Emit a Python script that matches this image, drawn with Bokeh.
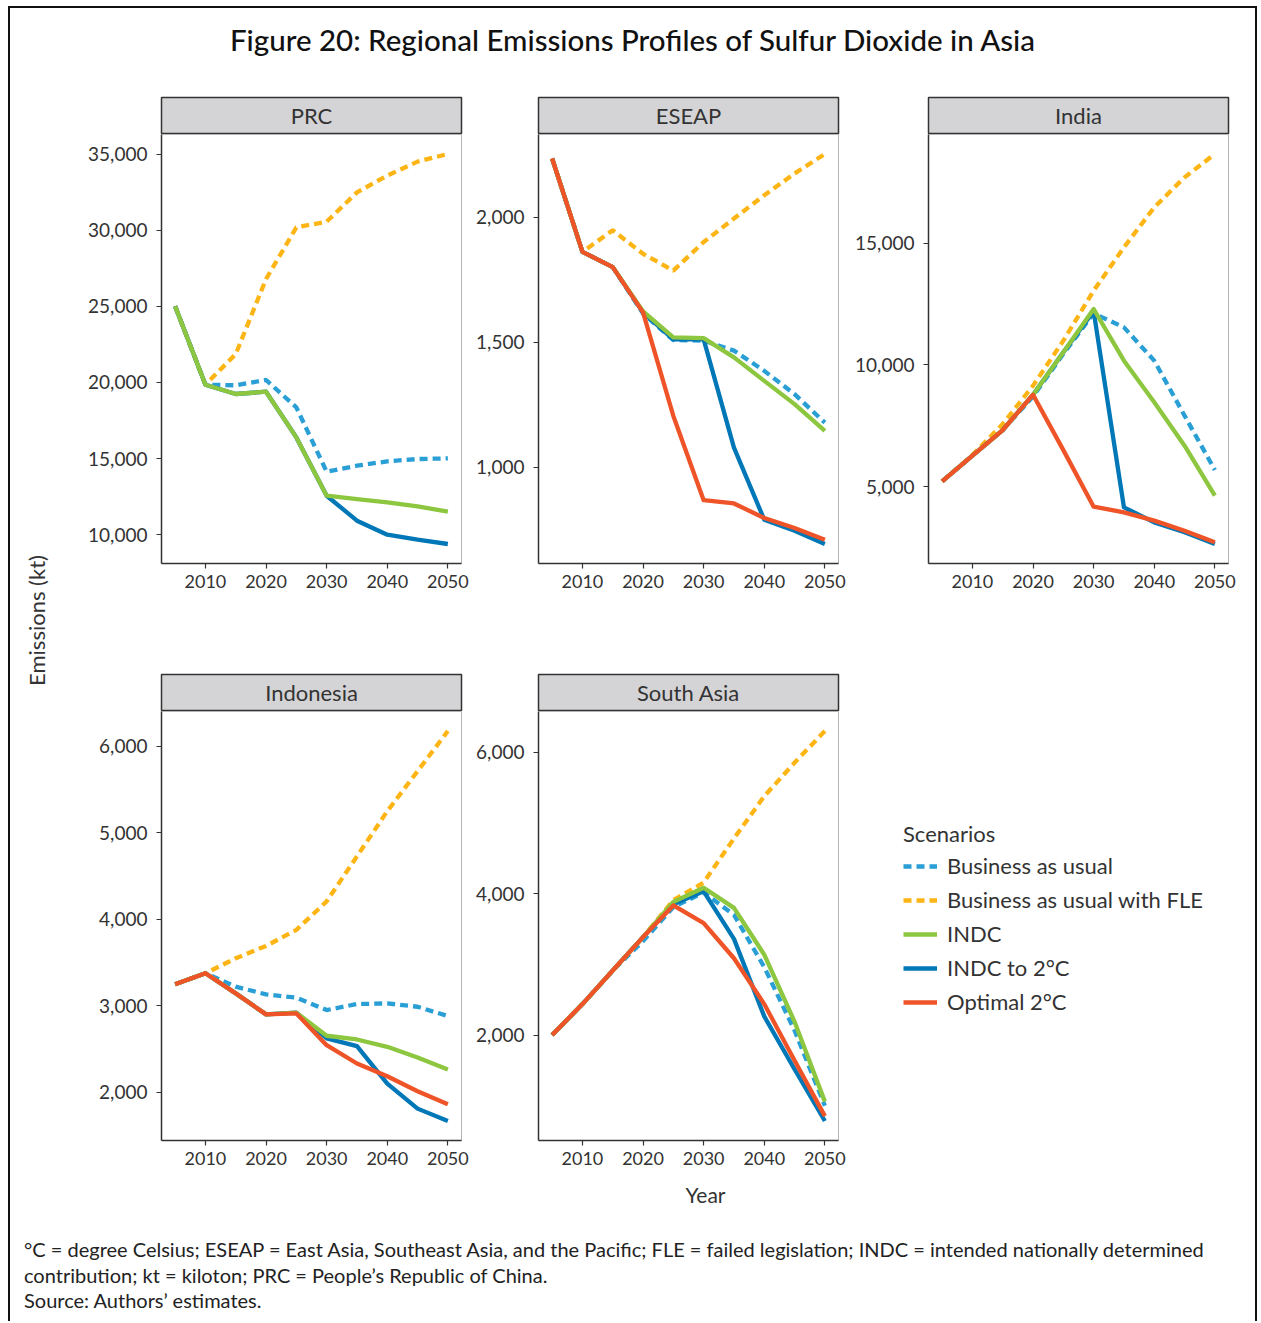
import numpy as np
from bokeh.plotting import figure
from bokeh.layouts import column, row
from bokeh.models import (Div, Label, Legend, LegendItem, FixedTicker,
                          NumeralTickFormatter, Range1d)
from bokeh.embed import file_html
from bokeh.resources import INLINE
from bokeh.core.properties import value

# ---------------- data ----------------
years = [2005, 2010, 2015, 2020, 2025, 2030, 2035, 2040, 2045, 2050]
x_ticks = [2010, 2020, 2030, 2040, 2050]

scenario_labels = ["Business as usual", "Business as usual with FLE", "INDC",
                   "INDC to 2°C", "Optimal 2°C"]

prc_bau = [25000, 19850, 19810, 20160, 18360, 14140, 14530, 14820, 14970, 15010]
prc_fle = [25000, 19850, 21860, 26790, 30180, 30560, 32480, 33580, 34500, 35000]
prc_indc = [25000, 19850, 19240, 19390, 16390, 12560, 12340, 12120, 11860, 11510]
prc_indc2 = [25000, 19850, 19240, 19390, 16390, 12560, 10920, 10000, 9670, 9390]
prc_opt = None
prc_ticks = [10000, 15000, 20000, 25000, 30000, 35000]

eseap_bau = [2235, 1862, 1801, 1615, 1509, 1507, 1467, 1386, 1293, 1179]
eseap_fle = [2235, 1862, 1948, 1854, 1787, 1901, 1995, 2088, 2175, 2253]
eseap_indc = [2235, 1862, 1801, 1624, 1520, 1517, 1440, 1346, 1253, 1146]
eseap_indc2 = [2235, 1862, 1801, 1620, 1512, 1512, 1079, 791, 747, 694]
eseap_opt = [2235, 1862, 1801, 1620, 1206, 869, 856, 798, 758, 711]
eseap_ticks = [1000, 1500, 2000]

india_bau = [5219, 6272, 7325, 8700, 10450, 12113, 11539, 10171, 7914, 5684]
india_fle = [5219, 6300, 7572, 9145, 10992, 13044, 14822, 16464, 17695, 18653]
india_indc = [5219, 6272, 7325, 8776, 10513, 12291, 10171, 8461, 6683, 4630]
india_indc2 = [5219, 6272, 7325, 8776, 10513, 12200, 4152, 3536, 3126, 2647]
india_opt = [5219, 6272, 7325, 8776, 6500, 4179, 3947, 3605, 3194, 2715]
india_ticks = [5000, 10000, 15000]

indo_bau = [3247, 3375, 3220, 3131, 3093, 2950, 3019, 3027, 2988, 2880]
indo_fle = [3247, 3375, 3548, 3691, 3876, 4205, 4726, 5247, 5710, 6174]
indo_indc = [3247, 3375, 3143, 2900, 2920, 2653, 2610, 2525, 2402, 2263]
indo_indc2 = [3247, 3375, 3143, 2900, 2920, 2622, 2533, 2100, 1811, 1668]
indo_opt = [3247, 3375, 3143, 2900, 2911, 2544, 2332, 2185, 2012, 1861]
indo_ticks = [2000, 3000, 4000, 5000, 6000]

sa_bau = [2000, 2438, 2912, 3330, 3808, 4017, 3699, 2961, 2065, 1000]
sa_fle = [2000, 2438, 2912, 3385, 3908, 4157, 4780, 5377, 5851, 6299]
sa_indc = [2000, 2438, 2912, 3385, 3883, 4082, 3798, 3136, 2189, 1059]
sa_indc2 = [2000, 2438, 2912, 3385, 3850, 4032, 3360, 2264, 1517, 785]
sa_opt = [2000, 2438, 2912, 3385, 3833, 3584, 3086, 2438, 1641, 854]
sa_ticks = [2000, 4000, 6000]

# ---------------- styles ----------------
FONT = "Lato"
TXT = "#333333"
styles = {
    "bau": dict(line_color="#2a9fd6", line_width=4.3, line_dash="8 5", line_cap="butt"),
    "fle": dict(line_color="#fdb515", line_width=4.3, line_dash="8 5", line_cap="butt"),
    "indc": dict(line_color="#8dc63f", line_width=4.3, line_join="round"),
    "indc2": dict(line_color="#0077b6", line_width=4.3, line_join="round"),
    "opt": dict(line_color="#ef5428", line_width=4.3, line_join="round"),
}
draw_order = ["bau", "fle", "indc2", "indc", "opt"]
legend_order = ["bau", "fle", "indc", "indc2", "opt"]

FW, FH = 300, 429
STRIP_H = 38


def blank(width, height):
    f = figure(width=width, height=height, output_backend="svg", toolbar_location=None,
               x_range=Range1d(0, 1), y_range=Range1d(0, 1),
               x_axis_location=None, y_axis_location=None, min_border=0)
    f.outline_line_color = None
    f.grid.visible = False
    return f


def make_strip(name, L, R):
    s = figure(width=L + FW + R, height=STRIP_H, output_backend="svg", toolbar_location=None,
               x_range=Range1d(0, 1), y_range=Range1d(0, 1),
               x_axis_location=None, y_axis_location=None,
               min_border_left=L, min_border_right=R, min_border_top=1, min_border_bottom=1)
    s.background_fill_color = "#d4d4d6"
    s.border_fill_color = "white"
    s.outline_line_color = "#333333"
    s.outline_line_width = 1.5
    s.grid.visible = False
    s.text(x=[0.5], y=[0.5], text=[name], text_align="center", text_baseline="middle",
           text_font=value(FONT), text_font_size="22px", text_color=TXT)
    return s


def make_panel(name, series, yticks, L, R, B):
    p = figure(width=L + FW + R, height=FH + B, output_backend="svg",
               toolbar_location=None,
               min_border_left=L, min_border_right=R, min_border_top=0,
               min_border_bottom=B)
    vals = [v for s in series.values() if s for v in s]
    lo, hi = min(vals), max(vals)
    pad = (hi - lo) * 0.05
    xpad = (max(years) - min(years)) * 0.05
    p.x_range = Range1d(min(years) - xpad, max(years) + xpad)
    p.y_range = Range1d(lo - pad, hi + pad)
    for key in draw_order:
        s = series.get(key)
        if s:
            p.line(years, s, **styles[key])
    p.xaxis.ticker = FixedTicker(ticks=x_ticks)
    p.yaxis.ticker = FixedTicker(ticks=yticks)
    p.yaxis.formatter = NumeralTickFormatter(format="0,0")
    for ax in p.axis:
        ax.major_tick_out = 5
        ax.major_tick_in = 0
        ax.minor_tick_out = 0
        ax.minor_tick_in = 0
        ax.axis_line_color = "#333333"
        ax.axis_line_width = 1.5
        ax.major_tick_line_color = "#333333"
        ax.major_tick_line_width = 1.2
        ax.major_label_text_font = FONT
        ax.major_label_text_color = TXT
    p.xaxis.major_label_text_font_size = "18px"
    p.yaxis.major_label_text_font_size = "19px"
    p.xaxis.major_label_standoff = 6
    p.yaxis.major_label_standoff = 9
    p.grid.visible = False
    p.outline_line_color = "#b5b5b5"
    p.outline_line_width = 1
    p.background_fill_color = "white"
    return p


regions = [
    ("PRC", dict(bau=prc_bau, fle=prc_fle, indc=prc_indc, indc2=prc_indc2, opt=prc_opt), prc_ticks),
    ("ESEAP", dict(bau=eseap_bau, fle=eseap_fle, indc=eseap_indc, indc2=eseap_indc2, opt=eseap_opt), eseap_ticks),
    ("India", dict(bau=india_bau, fle=india_fle, indc=india_indc, indc2=india_indc2, opt=india_opt), india_ticks),
    ("Indonesia", dict(bau=indo_bau, fle=indo_fle, indc=indo_indc, indc2=indo_indc2, opt=indo_opt), indo_ticks),
    ("South Asia", dict(bau=sa_bau, fle=sa_fle, indc=sa_indc, indc2=sa_indc2, opt=sa_opt), sa_ticks),
]

LR = [(101, 10), (67, 10), (80, 27)]
B1, B2 = 110, 40
YEAR_H = 57

cells = []
for i, (name, series, ticks) in enumerate(regions):
    L, R = LR[i % 3]
    B = B1 if i < 3 else B2
    p = make_panel(name, series, ticks, L, R, B)
    cells.append(column(make_strip(name, L, R), p, spacing=0))

# legend figure (its lines lie outside its 0..1 ranges, only the legend shows)
lg = blank(407, STRIP_H + FH + B2)
items = []
sa_series = dict(bau=sa_bau, fle=sa_fle, indc=sa_indc, indc2=sa_indc2, opt=sa_opt)
for key, lab in zip(legend_order, scenario_labels):
    r = lg.line(years, sa_series[key], **styles[key])
    items.append(LegendItem(label=lab, renderers=[r]))
legend = Legend(items=items, location=(55, 165), title="Scenarios",
                title_text_font=FONT, title_text_font_size="22px", title_text_font_style="normal",
                title_text_color=TXT, title_standoff=5,
                label_text_font=FONT, label_text_font_size="22px", label_text_color=TXT,
                glyph_width=34, glyph_height=24, label_height=24, label_standoff=10,
                spacing=7, padding=0, margin=0, border_line_color=None,
                background_fill_alpha=0)
lg.add_layout(legend)

# "Year" strip below the panels
GRID_W = 411 + 377 + 407
yr = blank(GRID_W, YEAR_H)
yr.add_layout(Label(x=645, y=YEAR_H - 14, x_units="screen", y_units="screen", text="Year",
                    text_align="center", text_baseline="middle", text_font=FONT,
                    text_font_size="21px", text_color=TXT))

# y label figure
ROWS_H = 2 * STRIP_H + 2 * FH + B1 + B2 + YEAR_H
yl = blank(50, ROWS_H)
yl.add_layout(Label(x=26, y=ROWS_H - 524, x_units="screen", y_units="screen",
                    text="Emissions (kt)",
                    angle=np.pi / 2, text_align="center", text_baseline="middle",
                    text_font=FONT, text_font_size="22px", text_color=TXT))

title_div = Div(
    text=('<div style="padding-top:14px;text-align:center;font-family:Lato;font-size:29.5px;'
          'font-weight:500;color:#111;white-space:nowrap;width:1245px;line-height:36px;">'
          'Figure 20: Regional Emissions Profiles of Sulfur Dioxide in Asia</div>'),
    width=1245, height=88, margin=0)

foot_div = Div(
    text=('<div style="padding-left:14px;font-family:Lato;font-size:20px;line-height:25.5px;'
          'color:#222;white-space:nowrap;">'
          '°C = degree Celsius; ESEAP = East Asia, Southeast Asia, and the Pacific; '
          'FLE = failed legislation; INDC = intended nationally determined<br>'
          'contribution; kt = kiloton; PRC = People’s Republic of China.<br>'
          'Source: Authors’ estimates.</div>'),
    width=1245, height=84, margin=0)

grid = column(row(cells[0], cells[1], cells[2], spacing=0),
              row(cells[3], cells[4], lg, spacing=0), yr, spacing=0)
body = row(yl, grid, spacing=0)
outer = column(title_div, body, foot_div, spacing=0, margin=(6, 0, 0, 8),
               styles={"border-top": "2px solid #111", "border-left": "2px solid #111",
                       "border-right": "2px solid #111", "background": "white"})

open("out.html", "w").write(file_html(outer, INLINE, title="Figure 20"))
